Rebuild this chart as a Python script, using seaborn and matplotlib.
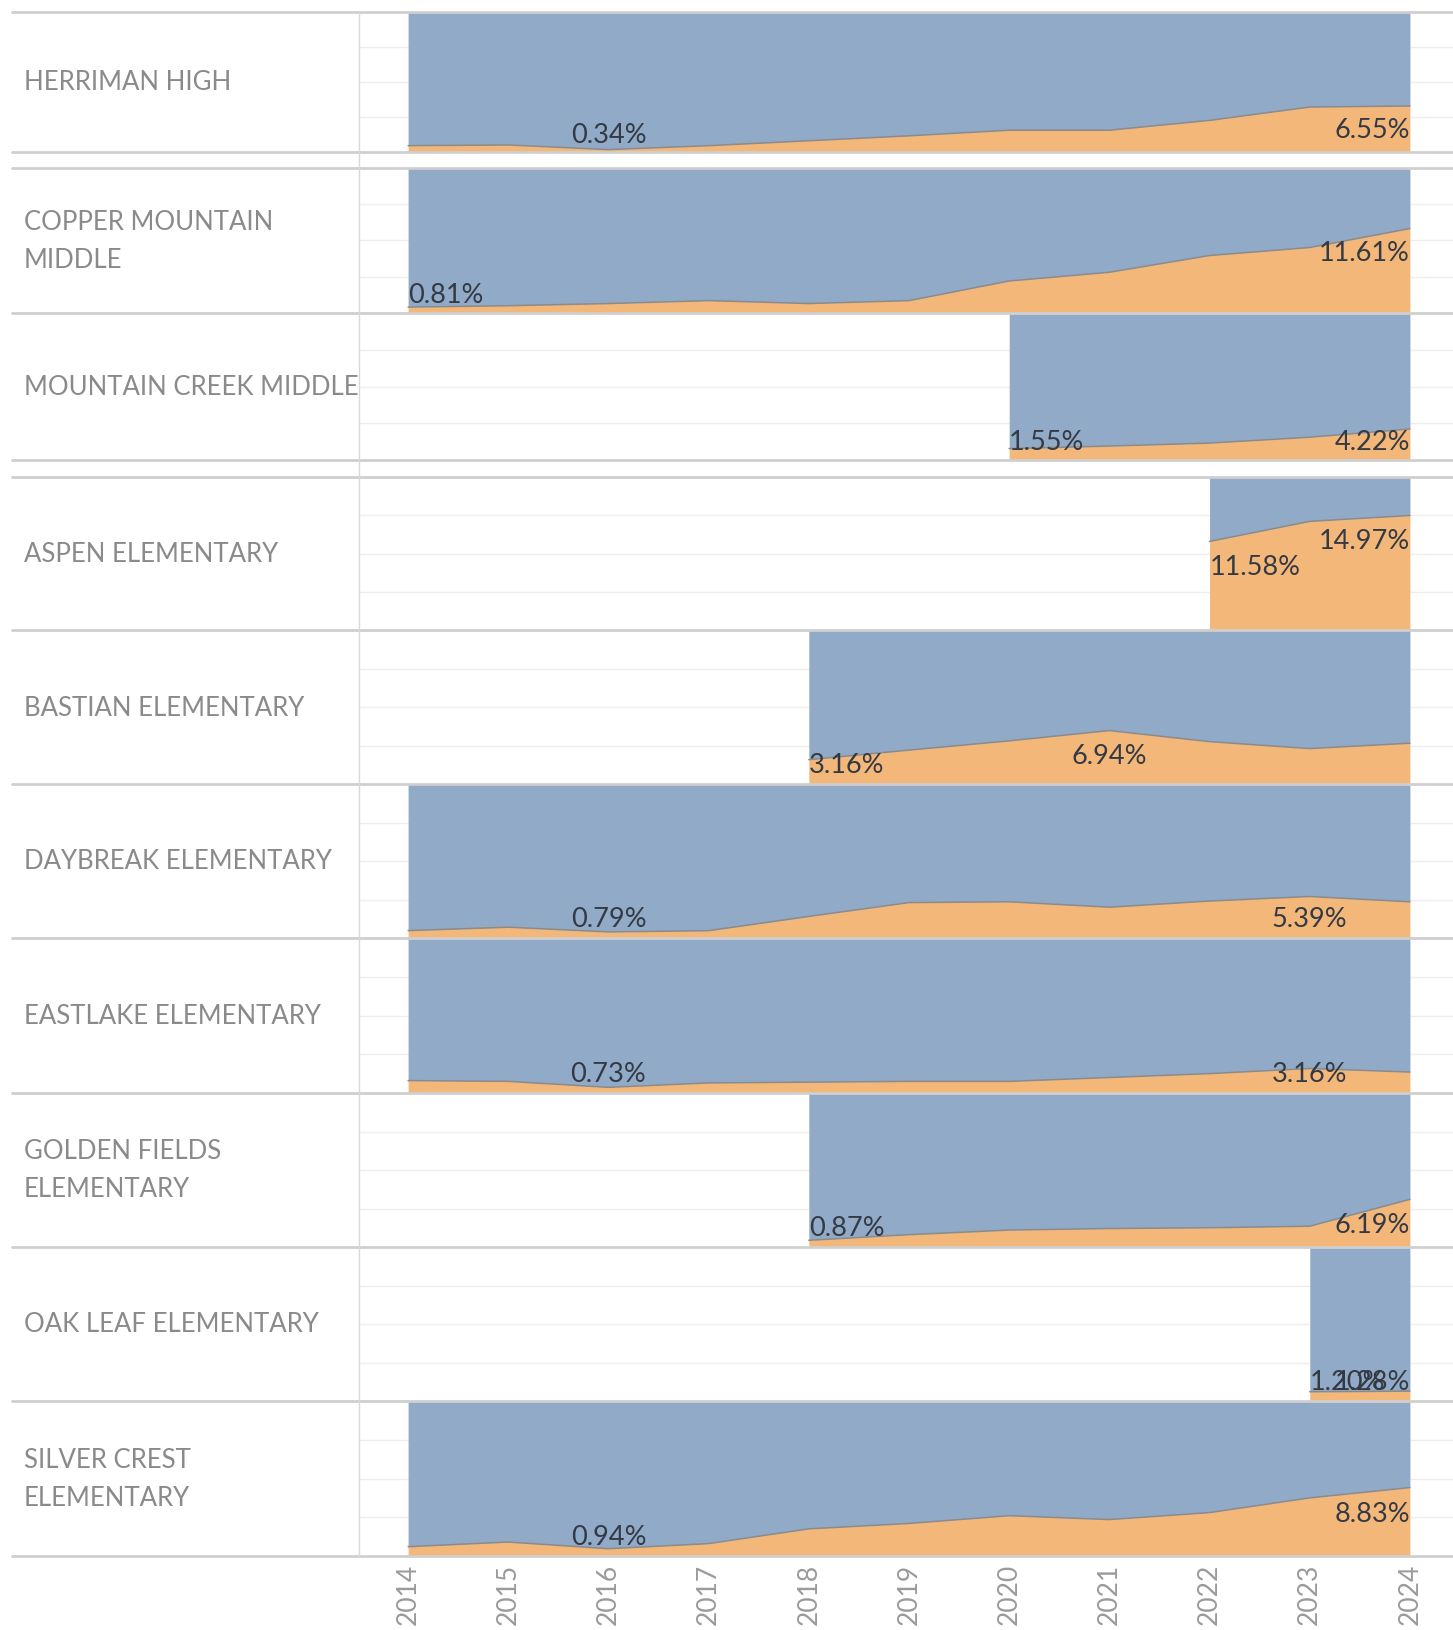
import numpy as np
import pandas as pd
import matplotlib.pyplot as plt
import seaborn as sns
from matplotlib.lines import Line2D

# data (percent per school year)
schools = ['HERRIMAN HIGH', 'COPPER MOUNTAIN\nMIDDLE', 'MOUNTAIN CREEK MIDDLE',
           'ASPEN ELEMENTARY', 'BASTIAN ELEMENTARY', 'DAYBREAK ELEMENTARY',
           'EASTLAKE ELEMENTARY', 'GOLDEN FIELDS\nELEMENTARY', 'OAK LEAF ELEMENTARY',
           'SILVER CREST\nELEMENTARY']
first_year = [2014, 2014, 2020, 2022, 2018, 2014, 2014, 2018, 2023, 2014]
years = list(range(2014, 2025))

herriman = [0.9, 1.0, 0.34, 0.9, 1.6, 2.3, 3.1, 3.1, 4.5, 6.4, 6.55]
copper_mountain = [0.81, 1.0, 1.3, 1.7, 1.3, 1.7, 4.4, 5.6, 7.9, 9.0, 11.61]
mountain_creek = [1.55, 1.9, 2.3, 3.1, 4.22]
aspen = [11.58, 14.2, 14.97]
bastian = [3.16, 4.4, 5.6, 6.94, 5.5, 4.6, 5.3]
daybreak = [0.96, 1.4, 0.79, 0.95, 2.8, 4.6, 4.7, 4.0, 4.8, 5.39, 4.7]
eastlake = [1.6, 1.5, 0.73, 1.3, 1.4, 1.5, 1.5, 2.0, 2.5, 3.16, 2.7]
golden_fields = [0.87, 1.6, 2.2, 2.4, 2.5, 2.7, 6.19]
oak_leaf = [1.20, 1.28]
silver_crest = [1.2, 1.8, 0.94, 1.6, 3.5, 4.2, 5.2, 4.7, 5.6, 7.5, 8.83]

series = [herriman, copper_mountain, mountain_creek, aspen, bastian,
          daybreak, eastlake, golden_fields, oak_leaf, silver_crest]

rows = []
for name, start, vals in zip(schools, first_year, series):
    for k, v in enumerate(vals):
        rows.append({'school': name, 'year': start + k, 'pct': v, 'rest': 100 - v})
df = pd.DataFrame(rows)

sns.set_theme(style='white')
plt.rcParams['font.family'] = ['Lato', 'DejaVu Sans']

BLUE = '#91aac7'
ORANGE = '#f4b77a'

W, H = 1453, 1631
fig = plt.figure(figsize=(W / 100, H / 100), dpi=100)

# pixel layout of the panes
tops = [12.5, 168.5, 314, 478, 631, 785, 939, 1094, 1248, 1402]
bots = [153, 314, 461, 631, 785, 939, 1094, 1248, 1402, 1557]
x0 = 359

for i, name in enumerate(schools):
    ax = fig.add_axes([x0 / W, 1 - bots[i] / H, (W - x0) / W, (bots[i] - tops[i]) / H])
    d = df[df['school'] == name]
    yrs = d['year'].values
    v = d['pct'].values
    for g in (5, 10, 15):
        ax.axhline(g, color='#eeeeee', lw=1, zorder=0)
    ax.fill_between(yrs, 0, v, color=ORANGE, lw=0, zorder=1)
    ax.fill_between(yrs, v, v + d['rest'].values, color=BLUE, lw=0, zorder=1)
    sns.lineplot(x=yrs, y=v, ax=ax, color='#8e8a86', lw=1.1, zorder=2)
    ax.set_xlim(2013.51, 2024.43)
    ax.set_ylim(0, 20)
    for s in ax.spines.values():
        s.set_visible(False)
    ax.set_yticks([])
    ax.set_xlabel('')
    ax.set_ylabel('')

    # min / max labels
    n = len(v)
    for idx in sorted({int(np.argmin(v)), int(np.argmax(v))}):
        ha = 'left' if idx == 0 else ('right' if idx == n - 1 else 'center')
        ax.text(yrs[idx], max(2.55, v[idx] - 3.3), f'{v[idx]:.2f}%', ha=ha, va='center',
                fontsize=19.5, color='#333a44', zorder=3)

    if i == len(schools) - 1:
        ax.set_xticks(years)
        ax.set_xticklabels([str(y) for y in years], rotation=90, fontsize=19,
                           color='#9a9a9a')
        ax.tick_params(axis='x', length=0, pad=5)
    else:
        ax.set_xticks([])

    mid = (tops[i] + bots[i]) / 2
    fig.text(24 / W, 1 - mid / H, name, ha='left', va='center', fontsize=18.5,
             color='#8a8a8a', linespacing=1.65)

# row separators and label column divider
for y in [12.5, 153, 168.5, 314, 461, 478, 631, 785, 939, 1094, 1248, 1402, 1557]:
    fig.add_artist(Line2D([12 / W, 1], [1 - y / H, 1 - y / H], transform=fig.transFigure,
                          color='#cfcfcf', lw=2))
fig.add_artist(Line2D([x0 / W, x0 / W], [1 - 12.5 / H, 1 - 1557 / H],
                      transform=fig.transFigure, color='#d9d9d9', lw=1))

fig.savefig('out.png', dpi=100)
